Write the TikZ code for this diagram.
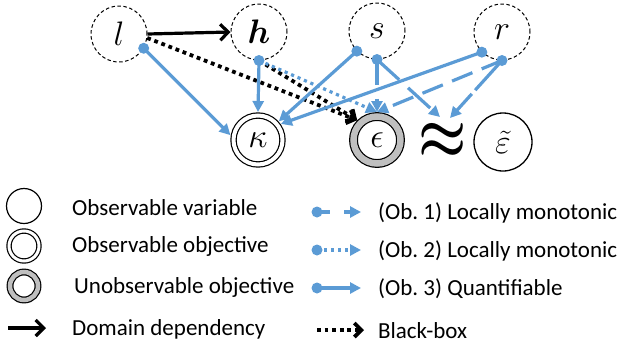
\RequirePackage{fix-cm}
\documentclass[tikz,border=0pt]{standalone}
\usepackage{amsmath}
\usepackage{bm}
\usepackage{graphicx}
\usepackage{fontspec}
\setmainfont{Carlito}
\usetikzlibrary{arrows.meta}
\definecolor{obblue}{RGB}{91,155,213}
\definecolor{ringgray}{RGB}{191,191,191}
\tikzset{
  lab/.style={font=\fontsize{34}{34}\selectfont},
  var/.style={circle, draw, dash pattern=on 3.5pt off 2.5pt, line width=1pt, minimum size=56pt, inner sep=0pt, lab},
  objo/.style={circle, draw, double, double distance=4pt, line width=1.2pt, minimum size=49pt, inner sep=0pt, outer sep=3.5pt, lab},
  obju/.style={circle, draw, double=ringgray, double distance=6.5pt, line width=1.2pt, minimum size=47pt, fill=white, inner sep=0pt, outer sep=4.5pt, lab},
  objv/.style={circle, draw, line width=1.3pt, minimum size=58pt, inner sep=0pt, lab},
  blk/.style={draw=black, line width=3.2pt, -{Straight Barb[length=8pt, width=16pt]}},
  bb/.style={draw=black, line width=3.8pt, dash pattern=on 3.8pt off 3.8pt, -{Straight Barb[length=7pt, width=14pt]}},
  qf/.style={draw=obblue, line width=3.2pt, -{Triangle[length=11pt, width=11pt]}},
  lm1/.style={qf, dash pattern=on 22pt off 10pt},
  lm2/.style={qf, dash pattern=on 3.2pt off 3.8pt},
  bdot/.style={fill=obblue},
  legtext/.style={anchor=west, inner sep=0pt, font=\fontsize{23}{24}\selectfont},
}
\begin{document}
\begin{tikzpicture}[x=1pt, y=-1pt]
\useasboundingbox (0,0) rectangle (619,346);
% nodes
\node[var] (l) at (119,34) {$l$};
\node[var] (h) at (259,32) {$\bm{h}$};
\node[var] (s) at (377,31) {$s$};
\node[var] (r) at (502,32) {$r$};
\node[objo] (kappa) at (258,140) {$\kappa$};
\node[obju] (eps) at (377,140) {$\epsilon$};
\node[inner sep=0pt] (approx) at (443,141) {\scalebox{5.4}[6.5]{$\boldsymbol{\approx}$}};
\node[objv] (epst) at (503,142) {$\tilde{\varepsilon}$};
\coordinate (ta) at (440,117);
\coordinate (tb) at (450,118);
% black
\draw[blk] (l.east) -- (h.west);
\draw[bb] (l.-8) -- (eps.135);
\draw[bb] (h.south) -- (eps.135);
% blue
\draw[qf] (l.-30) -- (kappa.170);
\draw[qf] (h.south) -- (kappa.north);
\draw[qf] (s.-135) -- (kappa.42);
\draw[qf] (r.-135) -- (kappa.35);
\draw[lm2] (h.south) -- (eps.north);
\draw[lm1, dash pattern=on 25pt off 14pt] (s.south) -- (eps.north);
\draw[lm1, dash pattern=on 30pt off 12pt] (s.south) -- (ta);
\draw[lm1] (r.south) -- (eps.north);
\draw[lm1, dash pattern=on 40pt off 5pt] (r.south) -- (tb);
\fill[bdot] (l.-30) circle (5.5pt);
\fill[bdot] (h.south) circle (5.5pt);
\fill[bdot] (s.-135) circle (5.5pt);
\fill[bdot] (s.south) circle (5.5pt);
\fill[bdot] (r.-135) circle (5.5pt);
\fill[bdot] (r.south) circle (5.5pt);
% legend left
\node[circle, draw, line width=1.2pt, minimum size=35pt, inner sep=0pt] (lg1) at (24,206) {};
\node[circle, draw, double, double distance=3pt, line width=1.2pt, minimum size=30pt, inner sep=0pt] (lg2) at (24,246) {};
\node[circle, draw, double=ringgray, double distance=4.5pt, line width=1.2pt, minimum size=28pt, fill=white, inner sep=0pt] (lg3) at (24,286) {};
\coordinate (la1) at (8,328);
\coordinate (la2) at (46,328);
\draw[blk] (la1) -- (la2);
\node[legtext] (t1) at (72,208) {Observable variable};
\node[legtext] (t2) at (72,246) {Observable objective};
\node[legtext] (t3) at (74,287) {Unobservable objective};
\node[legtext] (t4) at (72,329) {Domain dependency};
% legend right
\coordinate (a1) at (317,212); \coordinate (b1) at (361,212);
\coordinate (a2) at (317,250); \coordinate (b2) at (361,250);
\coordinate (a3) at (317,288); \coordinate (b3) at (361,288);
\coordinate (a4) at (317,330); \coordinate (b4) at (364,330);
\draw[qf, dash pattern=on 13pt off 14pt] (a1) -- (b1);
\draw[lm2] (a2) -- (b2);
\draw[qf] (a3) -- (b3);
\draw[bb] (a4) -- (b4);
\fill[bdot] (a1) circle (5.5pt);
\fill[bdot] (a2) circle (5.5pt);
\fill[bdot] (a3) circle (5.5pt);
\node[legtext] (u1) at (378,213) {(Ob.\ 1) Locally monotonic};
\node[legtext] (u2) at (378,251) {(Ob.\ 2) Locally monotonic};
\node[legtext] (u3) at (378,289) {(Ob.\ 3) Quantifiable};
\node[legtext] (u4) at (378,331) {Black-box};
\end{tikzpicture}
\end{document}
